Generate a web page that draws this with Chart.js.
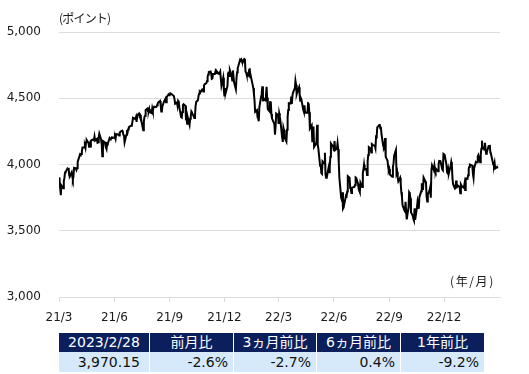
<!DOCTYPE html>
<html>
<head>
<meta charset="utf-8">
<script src="https://cdn.jsdelivr.net/npm/chart.js@4"></script>
<style>
body{margin:0;background:#fff}
#wrap{position:relative;width:529px;height:374px;background:#fff;overflow:hidden}
#c{position:absolute;left:0;top:0}
.unit{position:absolute;font:12px "Noto Sans CJK JP",sans-serif;color:#1a1a1a;white-space:nowrap}
table{position:absolute;left:58px;top:333px;border-collapse:separate;border-spacing:1px 0;font:14px "DejaVu Sans","Noto Sans CJK JP",sans-serif}
td{padding:0;white-space:nowrap}
tr.head td{background:#0b1f5c;color:#fff;text-align:center;height:19px;line-height:19px}
tr.row td{background:#d5e9fb;color:#111;text-align:right;height:20px;line-height:20px;padding-right:5px}
</style>
</head>
<body>
<div id="wrap">
<canvas id="c" width="529" height="330"></canvas>
<div class="unit" style="left:59px;top:9px;letter-spacing:-0.8px">(ポイント)</div>
<div class="unit" style="left:450px;top:272px;letter-spacing:1.6px">(年/月)</div>
<table id="tbl"></table>
</div>
<script>
// daily closes, 2021/3 - 2023/2
var dates = [
 "2021-03-01","2021-03-02","2021-03-03","2021-03-04","2021-03-05","2021-03-08","2021-03-09","2021-03-10","2021-03-11","2021-03-12","2021-03-15","2021-03-16","2021-03-17","2021-03-18","2021-03-19","2021-03-22","2021-03-23","2021-03-24","2021-03-25","2021-03-26","2021-03-29","2021-03-30","2021-03-31",
 "2021-04-01","2021-04-05","2021-04-06","2021-04-07","2021-04-08","2021-04-09","2021-04-12","2021-04-13","2021-04-14","2021-04-15","2021-04-16","2021-04-19","2021-04-20","2021-04-21","2021-04-22","2021-04-23","2021-04-26","2021-04-27","2021-04-28","2021-04-29","2021-04-30",
 "2021-05-03","2021-05-04","2021-05-05","2021-05-06","2021-05-07","2021-05-10","2021-05-11","2021-05-12","2021-05-13","2021-05-14","2021-05-17","2021-05-18","2021-05-19","2021-05-20","2021-05-21","2021-05-24","2021-05-25","2021-05-26","2021-05-27","2021-05-28",
 "2021-06-01","2021-06-02","2021-06-03","2021-06-04","2021-06-07","2021-06-08","2021-06-09","2021-06-10","2021-06-11","2021-06-14","2021-06-15","2021-06-16","2021-06-17","2021-06-18","2021-06-21","2021-06-22","2021-06-23","2021-06-24","2021-06-25","2021-06-28","2021-06-29","2021-06-30",
 "2021-07-01","2021-07-02","2021-07-06","2021-07-07","2021-07-08","2021-07-09","2021-07-12","2021-07-13","2021-07-14","2021-07-15","2021-07-16","2021-07-19","2021-07-20","2021-07-21","2021-07-22","2021-07-23","2021-07-26","2021-07-27","2021-07-28","2021-07-29","2021-07-30",
 "2021-08-02","2021-08-03","2021-08-04","2021-08-05","2021-08-06","2021-08-09","2021-08-10","2021-08-11","2021-08-12","2021-08-13","2021-08-16","2021-08-17","2021-08-18","2021-08-19","2021-08-20","2021-08-23","2021-08-24","2021-08-25","2021-08-26","2021-08-27","2021-08-30","2021-08-31",
 "2021-09-01","2021-09-02","2021-09-03","2021-09-07","2021-09-08","2021-09-09","2021-09-10","2021-09-13","2021-09-14","2021-09-15","2021-09-16","2021-09-17","2021-09-20","2021-09-21","2021-09-22","2021-09-23","2021-09-24","2021-09-27","2021-09-28","2021-09-29","2021-09-30",
 "2021-10-01","2021-10-04","2021-10-05","2021-10-06","2021-10-07","2021-10-08","2021-10-11","2021-10-12","2021-10-13","2021-10-14","2021-10-15","2021-10-18","2021-10-19","2021-10-20","2021-10-21","2021-10-22","2021-10-25","2021-10-26","2021-10-27","2021-10-28","2021-10-29",
 "2021-11-01","2021-11-02","2021-11-03","2021-11-04","2021-11-05","2021-11-08","2021-11-09","2021-11-10","2021-11-11","2021-11-12","2021-11-15","2021-11-16","2021-11-17","2021-11-18","2021-11-19","2021-11-22","2021-11-23","2021-11-24","2021-11-26","2021-11-29","2021-11-30",
 "2021-12-01","2021-12-02","2021-12-03","2021-12-06","2021-12-07","2021-12-08","2021-12-09","2021-12-10","2021-12-13","2021-12-14","2021-12-15","2021-12-16","2021-12-17","2021-12-20","2021-12-21","2021-12-22","2021-12-23","2021-12-27","2021-12-28","2021-12-29","2021-12-30","2021-12-31",
 "2022-01-03","2022-01-04","2022-01-05","2022-01-06","2022-01-07","2022-01-10","2022-01-11","2022-01-12","2022-01-13","2022-01-14","2022-01-18","2022-01-19","2022-01-20","2022-01-21","2022-01-24","2022-01-25","2022-01-26","2022-01-27","2022-01-28","2022-01-31",
 "2022-02-01","2022-02-02","2022-02-03","2022-02-04","2022-02-07","2022-02-08","2022-02-09","2022-02-10","2022-02-11","2022-02-14","2022-02-15","2022-02-16","2022-02-17","2022-02-18","2022-02-22","2022-02-23","2022-02-24","2022-02-25","2022-02-28",
 "2022-03-01","2022-03-02","2022-03-03","2022-03-04","2022-03-07","2022-03-08","2022-03-09","2022-03-10","2022-03-11","2022-03-14","2022-03-15","2022-03-16","2022-03-17","2022-03-18","2022-03-21","2022-03-22","2022-03-23","2022-03-24","2022-03-25","2022-03-28","2022-03-29","2022-03-30","2022-03-31",
 "2022-04-01","2022-04-04","2022-04-05","2022-04-06","2022-04-07","2022-04-08","2022-04-11","2022-04-12","2022-04-13","2022-04-14","2022-04-18","2022-04-19","2022-04-20","2022-04-21","2022-04-22","2022-04-25","2022-04-26","2022-04-27","2022-04-28","2022-04-29",
 "2022-05-02","2022-05-03","2022-05-04","2022-05-05","2022-05-06","2022-05-09","2022-05-10","2022-05-11","2022-05-12","2022-05-13","2022-05-16","2022-05-17","2022-05-18","2022-05-19","2022-05-20","2022-05-23","2022-05-24","2022-05-25","2022-05-26","2022-05-27","2022-05-31",
 "2022-06-01","2022-06-02","2022-06-03","2022-06-06","2022-06-07","2022-06-08","2022-06-09","2022-06-10","2022-06-13","2022-06-14","2022-06-15","2022-06-16","2022-06-17","2022-06-21","2022-06-22","2022-06-23","2022-06-24","2022-06-27","2022-06-28","2022-06-29","2022-06-30",
 "2022-07-01","2022-07-05","2022-07-06","2022-07-07","2022-07-08","2022-07-11","2022-07-12","2022-07-13","2022-07-14","2022-07-15","2022-07-18","2022-07-19","2022-07-20","2022-07-21","2022-07-22","2022-07-25","2022-07-26","2022-07-27","2022-07-28","2022-07-29",
 "2022-08-01","2022-08-02","2022-08-03","2022-08-04","2022-08-05","2022-08-08","2022-08-09","2022-08-10","2022-08-11","2022-08-12","2022-08-15","2022-08-16","2022-08-17","2022-08-18","2022-08-19","2022-08-22","2022-08-23","2022-08-24","2022-08-25","2022-08-26","2022-08-29","2022-08-30","2022-08-31",
 "2022-09-01","2022-09-02","2022-09-06","2022-09-07","2022-09-08","2022-09-09","2022-09-12","2022-09-13","2022-09-14","2022-09-15","2022-09-16","2022-09-19","2022-09-20","2022-09-21","2022-09-22","2022-09-23","2022-09-26","2022-09-27","2022-09-28","2022-09-29","2022-09-30",
 "2022-10-03","2022-10-04","2022-10-05","2022-10-06","2022-10-07","2022-10-10","2022-10-11","2022-10-12","2022-10-13","2022-10-14","2022-10-17","2022-10-18","2022-10-19","2022-10-20","2022-10-21","2022-10-24","2022-10-25","2022-10-26","2022-10-27","2022-10-28","2022-10-31",
 "2022-11-01","2022-11-02","2022-11-03","2022-11-04","2022-11-07","2022-11-08","2022-11-09","2022-11-10","2022-11-11","2022-11-14","2022-11-15","2022-11-16","2022-11-17","2022-11-18","2022-11-21","2022-11-22","2022-11-23","2022-11-25","2022-11-28","2022-11-29","2022-11-30",
 "2022-12-01","2022-12-02","2022-12-05","2022-12-06","2022-12-07","2022-12-08","2022-12-09","2022-12-12","2022-12-13","2022-12-14","2022-12-15","2022-12-16","2022-12-19","2022-12-20","2022-12-21","2022-12-22","2022-12-23","2022-12-27","2022-12-28","2022-12-29","2022-12-30",
 "2023-01-03","2023-01-04","2023-01-05","2023-01-06","2023-01-09","2023-01-10","2023-01-11","2023-01-12","2023-01-13","2023-01-17","2023-01-18","2023-01-19","2023-01-20","2023-01-23","2023-01-24","2023-01-25","2023-01-26","2023-01-27","2023-01-30","2023-01-31",
 "2023-02-01","2023-02-02","2023-02-03","2023-02-06","2023-02-07","2023-02-08","2023-02-09","2023-02-10","2023-02-13","2023-02-14","2023-02-15","2023-02-16","2023-02-17","2023-02-21","2023-02-22","2023-02-23","2023-02-24","2023-02-27","2023-02-28"
];
var closes = [
 3901.8,3870.3,3819.7,3768.5,3841.9,3821.4,3875.4,3898.8,3939.3,3943.3,3968.9,3962.7,3974.1,3915.5,3913.1,3940.6,3910.5,3889.1,3909.5,3974.5,3971.1,3959.0,3972.9,
 4019.9,4077.9,4073.9,4079.9,4097.2,4128.8,4127.9,4141.6,4124.7,4170.4,4185.5,4163.3,4134.9,4173.4,4135.0,4180.2,4187.6,4186.7,4183.2,4211.5,4181.2,
 4192.7,4164.7,4167.6,4201.6,4232.6,4188.4,4152.1,4063.0,4112.5,4173.9,4163.3,4127.8,4115.7,4159.1,4155.9,4197.1,4188.1,4196.0,4200.9,4204.1,
 4202.0,4208.1,4192.9,4229.9,4226.5,4227.3,4219.6,4239.2,4247.4,4255.2,4246.6,4223.7,4221.9,4166.5,4224.8,4246.4,4241.8,4266.5,4280.7,4290.6,4291.8,4297.5,
 4319.9,4352.3,4343.5,4358.1,4320.8,4369.6,4384.6,4369.2,4374.3,4360.0,4327.2,4258.5,4323.1,4358.7,4367.5,4411.8,4422.3,4401.5,4400.6,4419.2,4395.3,
 4387.2,4423.2,4402.7,4429.1,4436.5,4432.4,4436.8,4447.7,4460.8,4468.0,4479.7,4448.1,4400.3,4405.8,4441.7,4479.5,4486.2,4496.2,4470.0,4509.4,4528.8,4522.7,
 4524.1,4537.0,4535.4,4520.0,4514.1,4493.3,4458.6,4468.7,4443.1,4480.7,4473.8,4433.0,4357.7,4354.2,4395.6,4449.0,4455.5,4443.1,4352.6,4359.5,4307.5,
 4357.0,4300.5,4345.7,4363.6,4399.8,4391.3,4361.2,4350.7,4363.8,4438.3,4471.4,4486.5,4519.6,4536.2,4549.8,4544.9,4566.5,4574.8,4551.7,4596.4,4605.4,
 4613.7,4630.7,4660.6,4680.1,4697.5,4701.7,4685.3,4646.7,4649.3,4682.9,4682.8,4700.9,4688.7,4704.5,4698.0,4682.9,4690.7,4701.5,4594.6,4655.3,4567.0,
 4513.0,4577.1,4538.4,4591.7,4686.8,4701.2,4667.5,4712.0,4669.0,4634.1,4709.9,4668.7,4620.6,4568.0,4649.2,4697.0,4725.8,4791.2,4786.4,4793.1,4778.7,4766.2,
 4796.6,4793.5,4700.6,4696.1,4677.0,4670.3,4713.1,4726.4,4659.0,4662.9,4577.1,4532.8,4482.7,4397.9,4410.1,4356.5,4349.9,4326.5,4431.9,4515.6,
 4546.5,4589.4,4477.4,4500.5,4483.9,4521.5,4587.2,4504.1,4418.6,4401.7,4471.1,4475.0,4380.3,4348.9,4304.8,4225.5,4288.7,4384.7,4373.9,
 4306.3,4386.5,4363.5,4328.9,4201.1,4170.7,4277.9,4259.5,4204.3,4173.1,4262.5,4357.9,4411.7,4463.1,4461.2,4511.6,4456.2,4520.2,4543.1,4575.5,4631.6,4602.5,4530.4,
 4545.9,4582.6,4525.1,4481.2,4500.2,4488.3,4412.5,4397.5,4446.6,4392.6,4391.7,4462.2,4459.5,4393.7,4271.8,4296.1,4175.2,4184.0,4287.5,4131.9,
 4155.4,4175.5,4300.2,4146.9,4123.3,3991.2,4001.1,3935.2,3930.1,4023.9,4008.0,4088.9,3923.7,3900.8,3901.4,3974.0,3941.5,3978.7,4057.8,4158.2,4132.2,
 4101.2,4176.8,4108.5,4121.4,4160.7,4115.8,4017.8,3900.9,3749.6,3735.5,3790.0,3666.8,3674.8,3764.8,3759.9,3795.7,3911.7,3900.1,3821.6,3818.8,3785.4,
 3825.3,3831.4,3845.1,3902.6,3899.4,3854.4,3818.8,3801.8,3790.4,3863.2,3830.9,3936.7,3959.9,3999.0,3961.6,3966.8,3921.1,4023.6,4072.4,4130.3,
 4118.6,4091.2,4155.2,4151.9,4145.2,4140.1,4122.5,4210.2,4207.3,4280.2,4297.1,4305.2,4274.0,4283.7,4228.5,4138.0,4128.7,4140.8,4199.1,4057.7,4030.6,3986.2,3955.0,
 3966.9,3924.3,3908.2,3979.9,4006.2,4067.4,4110.4,3932.7,3946.0,3901.4,3873.3,3899.9,3855.9,3789.9,3758.0,3693.2,3655.0,3647.3,3719.0,3640.5,3585.6,
 3678.4,3790.9,3783.3,3744.5,3639.7,3612.4,3588.8,3577.0,3669.9,3583.1,3678.0,3720.0,3695.2,3665.8,3752.8,3797.3,3859.1,3830.6,3807.3,3901.1,3872.0,
 3856.1,3759.7,3719.9,3770.6,3806.8,3828.1,3748.6,3956.4,3992.9,3957.3,3991.7,3958.8,3946.6,3965.3,3949.9,4003.6,4027.3,4026.1,3963.9,3957.6,4080.1,
 4076.6,4071.7,3998.8,3941.3,3933.9,3963.5,3934.4,3990.6,4019.7,3995.3,3895.8,3852.4,3817.7,3821.6,3878.4,3822.4,3844.8,3829.3,3783.2,3849.3,3839.5,
 3824.1,3853.0,3808.1,3895.1,3892.1,3919.3,3969.6,3983.2,3999.1,3991.0,3928.9,3898.9,3972.6,4019.8,4017.0,4016.2,4060.4,4070.6,4017.8,4076.6,
 4119.2,4179.8,4136.5,4111.1,4164.0,4117.9,4081.5,4090.5,4137.3,4136.1,4147.6,4090.4,4079.1,3997.3,3991.1,4012.3,3970.0,3982.2,3970.15
];
var tickDates = ["2021-03-01","2021-06-01","2021-09-01","2021-12-01","2022-03-01","2022-06-01","2022-09-01","2022-12-01"];
var tickLabels = ["21/3","21/6","21/9","21/12","22/3","22/6","22/9","22/12"];
var yTicks = [3000, 3500, 4000, 4500, 5000];

var tableHead = ["2023/2/28", "前月比", "3ヵ月前比", "6ヵ月前比", "1年前比"];
var tableRow = ["3,970.15", "-2.6%", "-2.7%", "0.4%", "-9.2%"];
var colWidths = [90, 83, 82, 83, 83];

var day0 = Date.parse("2021-03-01");
function dayOf(d){ return (Date.parse(d) - day0) / 86400000; }

var points = dates.map(function(d, i){ return {x: dayOf(d), y: closes[i]}; });
var tickDays = tickDates.map(dayOf);

var ctx = document.getElementById('c').getContext('2d');
var chart = new Chart(ctx, {
    type: 'line',
    data: {
        datasets: [{
            data: points,
            borderColor: '#000',
            borderWidth: 2,
            pointRadius: 0,
            tension: 0,
            fill: false
        }]
    },
    options: {
        responsive: false,
        animation: false,
        events: [],
        layout: {padding: {top: 32, right: 29, left: 0, bottom: 0}},
        plugins: {legend: {display: false}, tooltip: {enabled: false}},
        scales: {
            x: {
                type: 'linear',
                min: 0,
                max: 733,
                afterFit: function(s){ s.height = 33; },
                afterBuildTicks: function(s){ s.ticks = tickDays.map(function(v){ return {value: v}; }); },
                ticks: {
                    autoSkip: false,
                    maxRotation: 0,
                    padding: 9,
                    color: '#1a1a1a',
                    font: {family: 'DejaVu Sans', size: 12},
                    callback: function(v){
                        var i = tickDays.indexOf(v);
                        return i >= 0 ? tickLabels[i] : '';
                    }
                },
                grid: {drawOnChartArea: false, drawTicks: true, tickLength: 5, color: '#dcdcdc'},
                border: {display: true, color: '#dcdcdc'}
            },
            y: {
                min: 3000,
                max: 5000,
                afterFit: function(s){ s.width = 59; },
                afterBuildTicks: function(s){ s.ticks = yTicks.map(function(v){ return {value: v}; }); },
                ticks: {
                    padding: 18,
                    color: '#1a1a1a',
                    font: {family: 'DejaVu Sans', size: 12},
                    callback: function(v){ return v.toLocaleString('en-US'); }
                },
                grid: {drawTicks: false, color: '#dcdcdc', lineWidth: 1},
                border: {display: false}
            }
        }
    }
});

// summary table under the chart
var tbl = document.getElementById('tbl');
var trH = document.createElement('tr'); trH.className = 'head';
var trR = document.createElement('tr'); trR.className = 'row';
tableHead.forEach(function(t, i){
    var td = document.createElement('td');
    td.textContent = t;
    td.style.width = colWidths[i] + 'px';
    trH.appendChild(td);
    var td2 = document.createElement('td');
    td2.textContent = tableRow[i];
    td2.style.width = (colWidths[i] - (i == 0 ? 9 : 5)) + 'px';
    if (i == 0) td2.style.paddingRight = '9px';
    trR.appendChild(td2);
});
tbl.appendChild(trH);
tbl.appendChild(trR);
</script>
</body>
</html>
